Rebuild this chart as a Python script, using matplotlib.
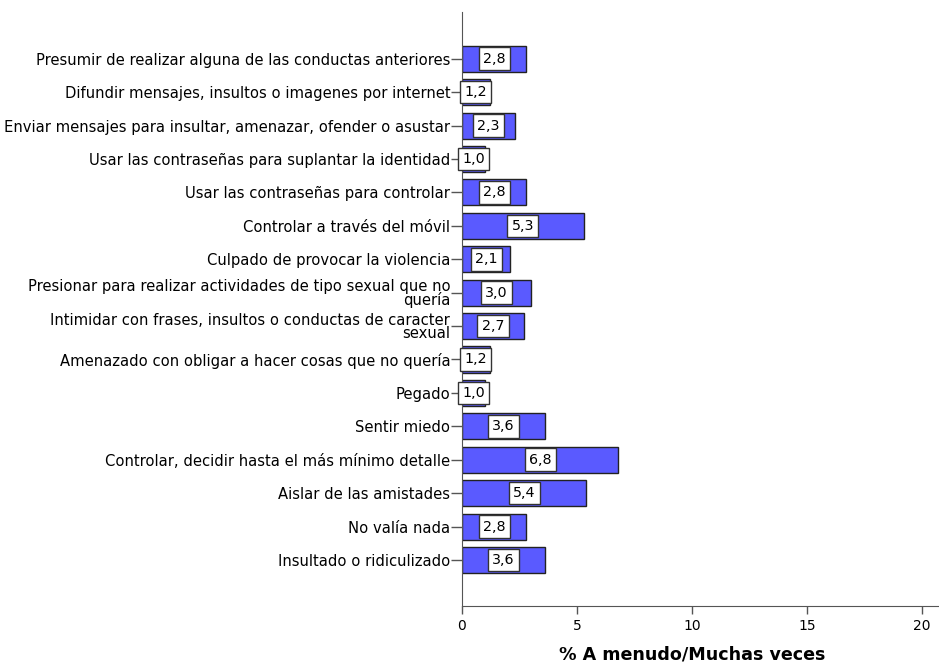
import matplotlib.pyplot as plt

plt.rcParams['font.family'] = ['DejaVu Sans']

# categories listed top to bottom as in the chart
categories = [
    "Presumir de realizar alguna de las conductas anteriores",
    "Difundir mensajes, insultos o imagenes por internet",
    "Enviar mensajes para insultar, amenazar, ofender o asustar",
    "Usar las contraseñas para suplantar la identidad",
    "Usar las contraseñas para controlar",
    "Controlar a través del móvil",
    "Culpado de provocar la violencia",
    "Presionar para realizar actividades de tipo sexual que no\nquería",
    "Intimidar con frases, insultos o conductas de caracter\nsexual",
    "Amenazado con obligar a hacer cosas que no quería",
    "Pegado",
    "Sentir miedo",
    "Controlar, decidir hasta el más mínimo detalle",
    "Aislar de las amistades",
    "No valía nada",
    "Insultado o ridiculizado",
]
values = [2.8, 1.2, 2.3, 1.0, 2.8, 5.3, 2.1, 3.0, 2.7, 1.2, 1.0, 3.6, 6.8, 5.4, 2.8, 3.6]

fig = plt.figure(figsize=(9.39, 6.66), dpi=100)
ax = fig.add_axes([0.492, 0.09, 0.508, 0.892])

ypos = list(range(len(categories)))
ax.barh(ypos, values, height=0.78, color='#5a5aff', edgecolor='#222222', linewidth=1)

for y, v in zip(ypos, values):
    ax.text(v / 2, y, f"{v:.1f}".replace('.', ','), ha='center', va='center', fontsize=10.3,
            bbox=dict(boxstyle='square,pad=0.3', facecolor='white', edgecolor='#333333', linewidth=1))

ax.set_yticks(ypos)
ax.set_yticklabels(categories, fontsize=10.6, ha='right', multialignment='right', linespacing=0.9)
ax.set_ylim(len(categories) - 1 + 1.38, -1.4)
ax.set_xlim(0, 20.74)
ax.set_xticks([0, 5, 10, 15, 20])
ax.tick_params(axis='y', direction='out', length=8, width=1, color='#555555', pad=0.5)
ax.tick_params(axis='x', direction='out', length=6, width=1, color='#555555', labelsize=10, pad=3)

for side in ['top', 'right']:
    ax.spines[side].set_visible(False)
for side in ['left', 'bottom']:
    ax.spines[side].set_color('#555555')

ax.set_xlabel("% A menudo/Muchas veces", fontsize=12.6, fontweight='bold')
ax.xaxis.set_label_coords(10 / 20.74, -0.066)

fig.savefig("out.png", dpi=100)
